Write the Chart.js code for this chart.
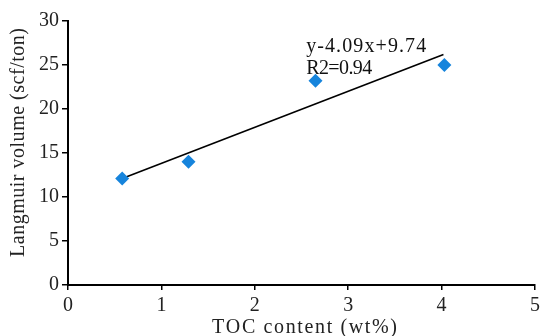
<!DOCTYPE html>
<html><head><meta charset="utf-8">
<script src="https://cdn.jsdelivr.net/npm/chart.js@4/dist/chart.umd.min.js"></script>
<style>html,body{margin:0;padding:0;background:#fff}#wrap{width:544px;height:336px}</style>
</head><body><div id="wrap"><canvas id="c" width="544" height="336"></canvas></div>
<script>
const tocValues = [0.58, 1.29, 2.65, 4.03];
const langmuirValues = [12.1, 14.0, 23.2, 25.0];
const trendX = [0.58, 4.02];
const trendY = [12.1, 26.2];
const equationLines = ["y-4.09x+9.74", "R2=0.94"];
const xTitle = "TOC content (wt%)";
const yTitle = "Langmuir volume (scf/ton)";
const FONT = "'Liberation Serif', 'Times New Roman', serif";

// draw text char by char, spread to a target width
function spacedText(ctx, text, x, y, targetWidth) {
  const widths = [...text].map(c => ctx.measureText(c).width);
  const total = widths.reduce((a, b) => a + b, 0);
  const gap = text.length > 1 ? (targetWidth - total) / (text.length - 1) : 0;
  let cx = x;
  [...text].forEach((c, i) => { ctx.fillText(c, cx, y); cx += widths[i] + gap; });
}

const textPlugin = {
  id: 'eqText',
  afterDatasetsDraw(chart) {
    const {ctx, scales} = chart;
    ctx.save();
    ctx.fillStyle = '#111';
    ctx.font = '20px ' + FONT;
    ctx.textAlign = 'left';
    ctx.textBaseline = 'alphabetic';
    const x = scales.x.getPixelForValue(2.55);
    spacedText(ctx, equationLines[0], x, 52, 120);
    spacedText(ctx, equationLines[1], x, 74, 66);
    // axis titles
    ctx.fillStyle = '#222';
    spacedText(ctx, xTitle, 212, 333, 185);
    ctx.translate(24, 257);
    ctx.rotate(-Math.PI / 2);
    spacedText(ctx, yTitle, 0, 0, 229);
    ctx.restore();
  }
};

new Chart(document.getElementById('c'), {
  type: 'scatter',
  data: {
    datasets: [
      {
        type: 'line',
        data: trendX.map((x, i) => ({x, y: trendY[i]})),
        borderColor: '#000', borderWidth: 1.6, pointRadius: 0, fill: false, order: 2
      },
      {
        data: tocValues.map((x, i) => ({x, y: langmuirValues[i]})),
        pointStyle: 'rectRot', pointRadius: 7, pointHoverRadius: 7,
        backgroundColor: '#1684dc', borderColor: '#1684dc', borderWidth: 0, order: 1
      }
    ]
  },
  options: {
    responsive: false, animation: false,
    layout: {padding: {left: 0, right: 7, top: 21, bottom: 0}},
    plugins: {legend: {display: false}, tooltip: {enabled: false}},
    scales: {
      x: {
        type: 'linear', min: 0, max: 5,
        ticks: {stepSize: 1, color: '#222', font: {family: FONT, size: 20}, padding: 4},
        grid: {drawOnChartArea: false, drawTicks: true, tickLength: 5, color: '#000', lineWidth: 1.5},
        border: {display: true, color: '#000', width: 2},
        title: {display: false},
        afterFit(s) { s.height = 51; }
      },
      y: {
        type: 'linear', min: 0, max: 30,
        ticks: {stepSize: 5, color: '#222', font: {family: FONT, size: 20}, padding: 3},
        grid: {drawOnChartArea: false, drawTicks: true, tickLength: 6, color: '#000', lineWidth: 1.5},
        border: {display: true, color: '#000', width: 2},
        title: {display: false},
        afterFit(s) { s.width = 68; }
      }
    }
  },
  plugins: [textPlugin]
});
</script></body></html>
